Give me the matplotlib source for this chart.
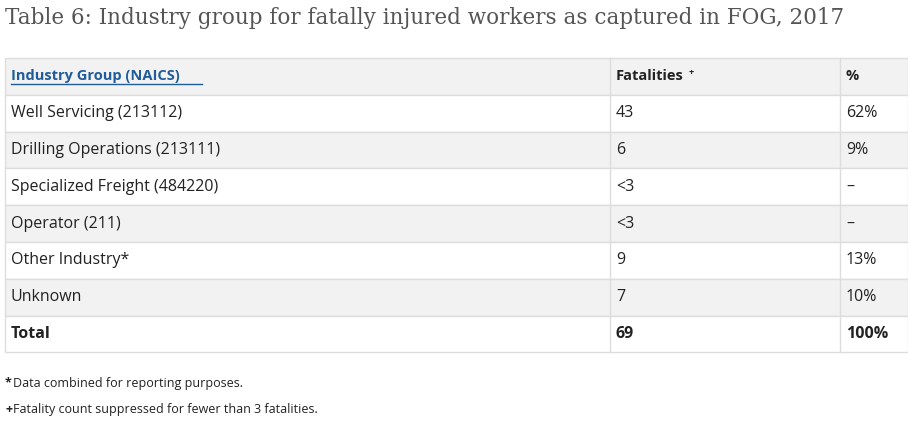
import matplotlib.pyplot as plt
from matplotlib.patches import Rectangle

title = "Table 6: Industry group for fatally injured workers as captured in FOG, 2017"
headers = ["Industry Group (NAICS)", "Fatalities", "%"]
groups = ["Well Servicing (213112)", "Drilling Operations (213111)",
          "Specialized Freight (484220)", "Operator (211)", "Other Industry*",
          "Unknown", "Total"]
fatalities = ["43", "6", "<3", "<3", "9", "7", "69"]
percents = ["62%", "9%", "\u2013", "\u2013", "13%", "10%", "100%"]
notes = ["*Data combined for reporting purposes.",
         "+Fatality count suppressed for fewer than 3 fatalities."]

W, H = 908, 426
fig = plt.figure(figsize=(W / 100, H / 100), dpi=100)
ax = fig.add_axes([0, 0, 1, 1])
ax.set_xlim(0, W)
ax.set_ylim(H, 0)
ax.axis("off")

font = "Open Sans"
ax.text(5, 18, title, fontsize=15.5, family="DejaVu Serif", color="#555555", va="center")

col_x = [5, 610, 840, 908]
top, rh = 58, 36.8
line = "#dddddd"

rows = [headers] + [[g, f, p] for g, f, p in zip(groups, fatalities, percents)]
for i, row in enumerate(rows):
    y = top + i * rh
    bg = "#f2f2f2" if i in (0, 2, 4, 6) else "white"
    ax.add_patch(Rectangle((col_x[0], y), col_x[-1] - col_x[0], rh, facecolor=bg,
                           edgecolor=line, lw=1))
    for c in range(3):
        bold = i == 0 or i == len(rows) - 1
        color = "#1f5c99" if (i == 0 and c == 0) else "#222222"
        t = ax.text(col_x[c] + 6, y + rh / 2, row[c], fontsize=10.5 if i == 0 else 11.5,
                    family=font, fontweight="bold" if bold else "normal",
                    color=color, va="center")
        if i == 0 and c == 1:
            ax.text(col_x[c] + 79, y + rh / 2 - 4, "+", fontsize=6.5, family=font,
                    fontweight="bold", color=color, va="center")
        if i == 0 and c == 0:
            ax.plot([col_x[0] + 6, col_x[0] + 197], [y + rh / 2 + 8] * 2,
                    color=color, lw=1)
for x in col_x[1:-1]:
    ax.plot([x, x], [top, top + rh * len(rows)], color=line, lw=1)

for k, n in enumerate(notes):
    ax.text(5, 383 + k * 26, n[0], fontsize=9, family=font, fontweight="bold",
            color="#222222", va="center")
    ax.text(13, 383 + k * 26, n[1:], fontsize=9, family=font,
            color="#222222", va="center")

fig.savefig("out.png", dpi=100)
